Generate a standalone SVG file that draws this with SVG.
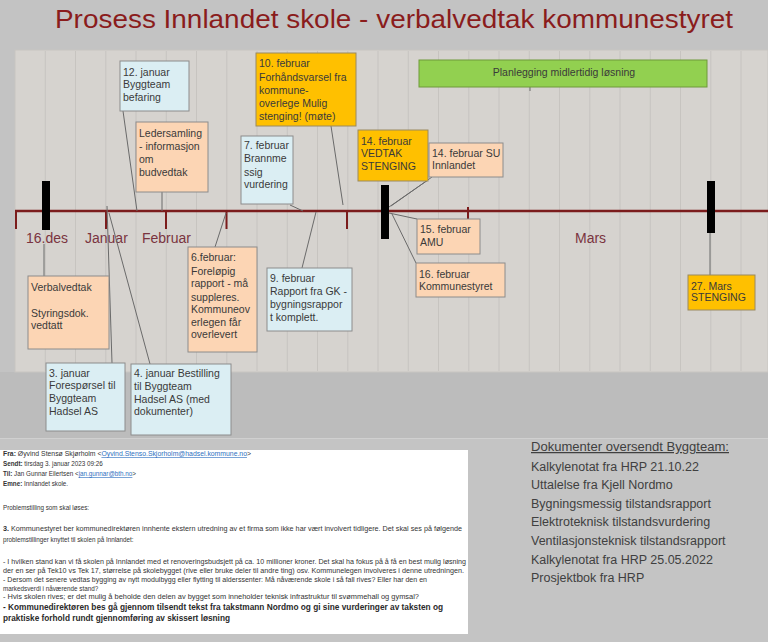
<svg xmlns="http://www.w3.org/2000/svg" width="768" height="642" viewBox="0 0 768 642">
<style>
.t{font-family:"Liberation Sans",Arial,sans-serif;font-size:10.5px;fill:#3a3a3a}
.peach{fill:#fcd5b4;stroke:#8c8c8c;stroke-width:1}
.blue{fill:#dbeef3;stroke:#8c8c8c;stroke-width:1}
.gold{fill:#ffc000;stroke:#9a8a60;stroke-width:1}
.mon{font-family:"Liberation Sans",Arial,sans-serif;font-size:14px;fill:#7a3440}
.con line{stroke:#6a6a6a;stroke-width:1}
.grid line{stroke:#c3c0bc;stroke-width:0.8}
.em{font-family:"Liberation Sans",Arial,sans-serif;font-size:6.3px;fill:#333}
.doc{font-family:"Liberation Sans",Arial,sans-serif;font-size:12.5px;fill:#404040}
.bar{fill:#000}
</style>
<rect x="0" y="0" width="768" height="642" fill="#c3c3c3"/>
<rect x="0" y="372" width="768" height="66" fill="#bcbcbc"/>
<line x1="0" y1="438.5" x2="768" y2="438.5" stroke="#d0d0d0" stroke-width="1"/>
<rect x="0" y="439" width="768" height="203" fill="#c4c4c4"/>
<text x="394" y="28" text-anchor="middle" font-family="'Liberation Sans',Arial,sans-serif" font-size="26" fill="#8a1c1c" textLength="678" lengthAdjust="spacingAndGlyphs">Prosess Innlandet skole - verbalvedtak kommunestyret</text>
<rect x="15" y="50" width="753" height="322" fill="#d6d3cf" stroke="#c8c5c1" stroke-width="1"/>
<g class="grid">
<line x1="45.3" y1="51" x2="45.3" y2="371"/><line x1="75.5" y1="51" x2="75.5" y2="371"/><line x1="105.8" y1="51" x2="105.8" y2="371"/><line x1="136" y1="51" x2="136" y2="371"/><line x1="166.3" y1="51" x2="166.3" y2="371"/><line x1="196.5" y1="51" x2="196.5" y2="371"/><line x1="226.8" y1="51" x2="226.8" y2="371"/><line x1="257" y1="51" x2="257" y2="371"/><line x1="287.3" y1="51" x2="287.3" y2="371"/><line x1="317.5" y1="51" x2="317.5" y2="371"/><line x1="347.8" y1="51" x2="347.8" y2="371"/><line x1="378" y1="51" x2="378" y2="371"/><line x1="408.3" y1="51" x2="408.3" y2="371"/><line x1="438.5" y1="51" x2="438.5" y2="371"/><line x1="468.8" y1="51" x2="468.8" y2="371"/><line x1="499" y1="51" x2="499" y2="371"/><line x1="529.3" y1="51" x2="529.3" y2="371"/><line x1="559.5" y1="51" x2="559.5" y2="371"/><line x1="589.8" y1="51" x2="589.8" y2="371"/><line x1="620" y1="51" x2="620" y2="371"/><line x1="650.3" y1="51" x2="650.3" y2="371"/><line x1="680.5" y1="51" x2="680.5" y2="371"/><line x1="710.8" y1="51" x2="710.8" y2="371"/><line x1="741" y1="51" x2="741" y2="371"/>
</g>
<g id="axis">
<line x1="15" y1="211" x2="768" y2="211" stroke="#7b1c1c" stroke-width="2.5"/>
<g stroke="#7b1c1c" stroke-width="2">
<line x1="16" y1="211" x2="16" y2="229"/><line x1="106" y1="211" x2="106" y2="229"/><line x1="166" y1="211" x2="166" y2="229"/><line x1="226.5" y1="211" x2="226.5" y2="229"/><line x1="347" y1="211" x2="347" y2="229"/><line x1="468" y1="207" x2="468" y2="219"/>
</g>
<rect class="bar" x="42" y="181" width="8" height="49"/>
<rect class="bar" x="381" y="185" width="8" height="54"/>
<rect class="bar" x="707" y="181" width="8" height="52"/>
<text class="mon" x="26" y="243">16.des</text>
<text class="mon" x="85" y="243">Januar</text>
<text class="mon" x="142" y="243">Februar</text>
<text class="mon" x="575" y="243">Mars</text>
</g>
<g class="con" id="connectors">
<line x1="123" y1="111" x2="137" y2="211"/>
<line x1="162" y1="192" x2="162" y2="211"/>
<line x1="331" y1="126" x2="343" y2="205"/>
<line x1="290" y1="205" x2="303" y2="211"/>
<line x1="428" y1="180" x2="389" y2="207"/>
<line x1="432" y1="177" x2="391" y2="206"/>
<line x1="389" y1="213" x2="417" y2="219"/>
<line x1="392" y1="214" x2="416" y2="263"/>
<line x1="710" y1="233" x2="710" y2="275"/>
<line x1="44" y1="244" x2="44" y2="276"/>
<line x1="215" y1="247" x2="226" y2="213"/>
<line x1="302" y1="268" x2="316" y2="212"/>
<line x1="107" y1="206" x2="112" y2="363"/>
<line x1="109" y1="213" x2="150" y2="364"/>
<line x1="530" y1="87" x2="530" y2="91"/>
</g>
<g id="n_12jan"><rect class="blue" x="120" y="61" width="69" height="50"/><text class="t" x="123"><tspan x="123" y="75.5">12. januar</tspan><tspan x="123" y="88">Byggteam</tspan><tspan x="123" y="101">befaring</tspan></text></g>
<g id="n_leder"><rect class="peach" x="136" y="122" width="72" height="70"/><text class="t"><tspan x="139" y="136.5">Ledersamling</tspan><tspan x="139" y="149.5">- informasjon</tspan><tspan x="139" y="162.5">om</tspan><tspan x="139" y="175.5">budvedtak</tspan></text></g>
<g id="n_10feb"><rect class="gold" x="256" y="53" width="100" height="73"/><text class="t"><tspan x="259" y="67">10. februar</tspan><tspan x="259" y="80.5">Forhåndsvarsel fra</tspan><tspan x="259" y="93.5">kommune-</tspan><tspan x="259" y="106.5">overlege Mulig</tspan><tspan x="259" y="119.5">stenging! (møte)</tspan></text></g>
<g id="n_7feb"><rect class="blue" x="241" y="136" width="52" height="68"/><text class="t"><tspan x="244" y="149">7. februar</tspan><tspan x="244" y="162">Brannme</tspan><tspan x="244" y="175.5">ssig</tspan><tspan x="244" y="188">vurdering</tspan></text></g>
<g id="n_14feb_vedtak"><rect class="gold" x="358" y="130" width="70" height="51"/><text class="t"><tspan x="361" y="144.5">14. februar</tspan><tspan x="361" y="157">VEDTAK</tspan><tspan x="361" y="169.5">STENGING</tspan></text></g>
<g id="n_14feb_su"><rect class="peach" x="429" y="143" width="74" height="34"/><text class="t"><tspan x="432" y="157">14. februar SU</tspan><tspan x="432" y="168.5">Innlandet</tspan></text></g>
<g id="n_plan"><rect x="419" y="60" width="288" height="27" fill="#92d050" stroke="#6f9a3a" stroke-width="1"/><text class="t" x="564" y="75.5" text-anchor="middle">Planlegging midlertidig løsning</text></g>
<g id="n_15feb"><rect class="peach" x="417" y="219" width="63" height="35"/><text class="t"><tspan x="420" y="233">15. februar</tspan><tspan x="420" y="245.5">AMU</tspan></text></g>
<g id="n_16feb"><rect class="peach" x="416" y="263" width="89" height="34"/><text class="t"><tspan x="419" y="278">16. februar</tspan><tspan x="419" y="290">Kommunestyret</tspan></text></g>
<g id="n_27mars"><rect class="gold" x="688" y="275" width="67" height="35"/><text class="t"><tspan x="691" y="289.5">27. Mars</tspan><tspan x="691" y="301">STENGING</tspan></text></g>
<g id="n_verbal"><rect class="peach" x="28" y="276" width="81" height="73"/><text class="t"><tspan x="31" y="291">Verbalvedtak</tspan><tspan x="31" y="317">Styringsdok.</tspan><tspan x="31" y="329">vedtatt</tspan></text></g>
<g id="n_6feb"><rect class="peach" x="188" y="247" width="69" height="105"/><text class="t"><tspan x="191" y="261">6.februar:</tspan><tspan x="191" y="274.5">Foreløpig</tspan><tspan x="191" y="287">rapport - må</tspan><tspan x="191" y="300.5">suppleres.</tspan><tspan x="191" y="313">Kommuneov</tspan><tspan x="191" y="325.5">erlegen får</tspan><tspan x="191" y="338">overlevert</tspan></text></g>
<g id="n_9feb"><rect class="blue" x="267" y="268" width="85" height="63"/><text class="t"><tspan x="270" y="282">9. februar</tspan><tspan x="270" y="294.5">Rapport fra GK -</tspan><tspan x="270" y="307.5">bygningsrappor</tspan><tspan x="270" y="320.5">t komplett.</tspan></text></g>
<g id="n_3jan"><rect class="blue" x="46" y="363" width="79" height="68"/><text class="t"><tspan x="49" y="376.5">3. januar</tspan><tspan x="49" y="389">Forespørsel til</tspan><tspan x="49" y="402">Byggteam</tspan><tspan x="49" y="414.5">Hadsel AS</tspan></text></g>
<g id="n_4jan"><rect class="blue" x="131" y="364" width="100" height="71"/><text class="t"><tspan x="134" y="377">4. januar Bestilling</tspan><tspan x="134" y="389.5">til Byggteam</tspan><tspan x="134" y="402.5">Hadsel AS (med</tspan><tspan x="134" y="415">dokumenter)</tspan></text></g>
<g id="email">
<rect x="0" y="450" width="468" height="184" fill="#ffffff"/>
<text class="em" x="3" y="456" textLength="248" lengthAdjust="spacingAndGlyphs"><tspan font-weight="bold">Fra:</tspan> Øyvind Stensø Skjørholm &lt;<tspan fill="#2e6fc0" text-decoration="underline">Oyvind.Stenso.Skjorholm@hadsel.kommune.no</tspan>&gt;</text>
<text class="em" x="3" y="466"><tspan font-weight="bold">Sendt:</tspan> tirsdag 3. januar 2023 09:26</text>
<text class="em" x="3" y="476"><tspan font-weight="bold">Til:</tspan> Jan Gunnar Eilertsen &lt;<tspan fill="#2e6fc0" text-decoration="underline">jan.gunnar@bth.no</tspan>&gt;</text>
<text class="em" x="3" y="486"><tspan font-weight="bold">Emne:</tspan> Innlandet skole.</text>
<text class="em" x="3" y="510">Problemstilling som skal løses:</text>
<text class="em" x="3" y="531" textLength="459" lengthAdjust="spacingAndGlyphs"><tspan font-weight="bold">3.</tspan> Kommunestyret ber kommunedirektøren innhente ekstern utredning av et firma som ikke har vært involvert tidligere. Det skal ses på følgende</text>
<text class="em" x="3" y="542">problemstillinger knyttet til skolen på Innlandet:</text>
<text class="em" x="3" y="564" textLength="463" lengthAdjust="spacingAndGlyphs">- I hvilken stand kan vi få skolen på Innlandet med et renoveringsbudsjett på ca. 10 millioner kroner. Det skal ha fokus på å få en best mulig løsning</text>
<text class="em" x="3" y="573" textLength="461" lengthAdjust="spacingAndGlyphs">der en ser på Tek10 vs Tek 17, størrelse på skolebygget (rive eller bruke deler til andre ting) osv. Kommunelegen involveres i denne utredningen.</text>
<text class="em" x="3" y="582" textLength="424" lengthAdjust="spacingAndGlyphs">- Dersom det senere vedtas bygging av nytt modulbygg eller flytting til alderssenter: Må nåværende skole i så fall rives? Eller har den en</text>
<text class="em" x="3" y="590.5">markedsverdi i nåværende stand?</text>
<text class="em" x="3" y="599" textLength="416" lengthAdjust="spacingAndGlyphs">- Hvis skolen rives; er det mulig å beholde den delen av bygget som inneholder teknisk infrastruktur til svømmehall og gymsal?</text>
<text x="3" y="610" font-family="'Liberation Sans',Arial,sans-serif" font-size="9.5" font-weight="bold" fill="#2a2a2a" textLength="440" lengthAdjust="spacingAndGlyphs">- Kommunedirektøren bes gå gjennom tilsendt tekst fra takstmann Nordmo og gi sine vurderinger av taksten og</text>
<text x="3" y="621" font-family="'Liberation Sans',Arial,sans-serif" font-size="9.5" font-weight="bold" fill="#2a2a2a" textLength="227" lengthAdjust="spacingAndGlyphs">praktiske forhold rundt gjennomføring av skissert løsning</text>
</g>
<g id="docs">
<text class="doc" x="531" y="451" text-decoration="underline" textLength="198" lengthAdjust="spacingAndGlyphs">Dokumenter oversendt Byggteam:</text>
<text class="doc" x="531" y="470.5">Kalkylenotat fra HRP 21.10.22</text>
<text class="doc" x="531" y="489">Uttalelse fra Kjell Nordmo</text>
<text class="doc" x="531" y="507.5">Bygningsmessig tilstandsrapport</text>
<text class="doc" x="531" y="526">Elektroteknisk tilstandsvurdering</text>
<text class="doc" x="531" y="545">Ventilasjonsteknisk tilstandsrapport</text>
<text class="doc" x="531" y="563.5">Kalkylenotat fra HRP 25.05.2022</text>
<text class="doc" x="531" y="582">Prosjektbok fra HRP</text>
</g>
</svg>
